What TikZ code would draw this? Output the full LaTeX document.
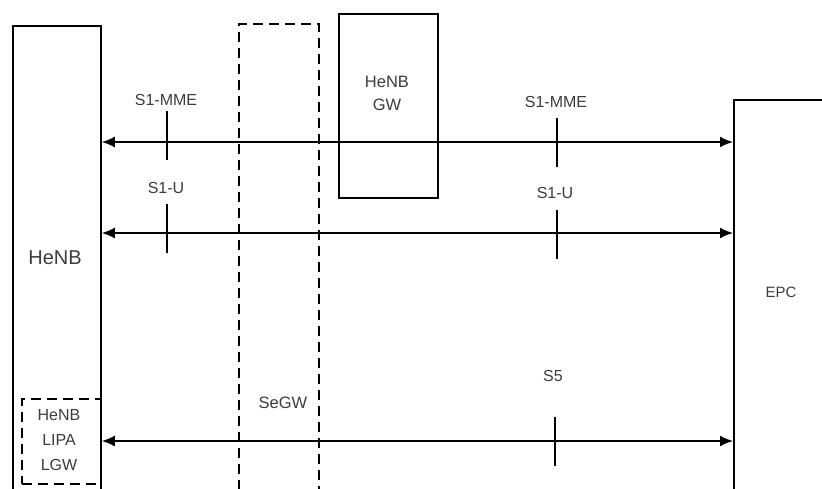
\documentclass[tikz,border=0pt]{standalone}
\usepackage{fontspec}
\setmainfont{Liberation Sans}
\usepackage{tikz}
\usetikzlibrary{arrows.meta, positioning}
\definecolor{LabelGray}{HTML}{3C3C3C}

\begin{document}
\begin{tikzpicture}[x=1pt, y=-1pt,
  box/.style={draw, line width=1.8pt, inner sep=0pt, anchor=north west},
  dbox/.style={box, dash pattern=on 10pt off 6pt},
  lbl/.style={text=LabelGray, font=\fontsize{16}{23}\selectfont, align=center, inner sep=0pt},
  link/.style={{Latex[length=13pt,width=11pt]}-{Latex[length=13pt,width=11pt]}, line width=1.7pt},
  tick/.style={line width=1.7pt},
]
  \useasboundingbox (0,0) rectangle (822,488);
  \clip (0,0) rectangle (822,488);
  % boxes (open ones run past the page edge)
  \node[box, minimum width=88pt, minimum height=600pt] (henb) at (12,25) {};
  \node[dbox, minimum width=80pt, minimum height=600pt] (segw) at (238,23) {};
  \node[box, minimum width=99pt, minimum height=184pt] (hgw) at (338,13) {};
  \node[box, minimum width=200pt, minimum height=600pt] (epc) at (733,99) {};
  \node[dbox, minimum width=79pt, minimum height=85pt] (lgw) at (21,398) {};
  % box texts
  \node[lbl, font=\fontsize{20}{24}\selectfont] (henbtxt) at (55,258) {HeNB};
  \node[lbl, font=\fontsize{16.5}{23}\selectfont] (hgwtxt) at (387,93) {HeNB\\GW};
  \node[lbl, font=\fontsize{16.5}{24}\selectfont] (segwtxt) at (283,403) {SeGW};
  \node[lbl, font=\fontsize{16}{25}\selectfont] (lgwtxt) at (59,440) {HeNB\\LIPA\\LGW};
  \node[lbl, font=\fontsize{15}{23}\selectfont] (epctxt) at (781,292) {EPC};
  % interfaces
  \draw[link] (henb.east |- 0,142) -- (epc.west |- 0,142);
  \draw[link] (henb.east |- 0,233) -- (epc.west |- 0,233);
  \draw[link] (lgw.east |- 0,441) -- (epc.west |- 0,441);
  \node[lbl] (mmeA) at (166,100) {S1-MME};
  \node[lbl] (mmeB) at (556,102) {S1-MME};
  \node[lbl] (s1uA) at (166,188) {S1-U};
  \node[lbl] (s1uB) at (555,193) {S1-U};
  \node[lbl] (s5) at (553,376) {S5};
  \draw[tick] (167,111) -- (167,160);
  \draw[tick] (557,118) -- (557,167);
  \draw[tick] (167,204) -- (167,253);
  \draw[tick] (557,210) -- (557,259);
  \draw[tick] (555,417) -- (555,466);
\end{tikzpicture}
\end{document}
